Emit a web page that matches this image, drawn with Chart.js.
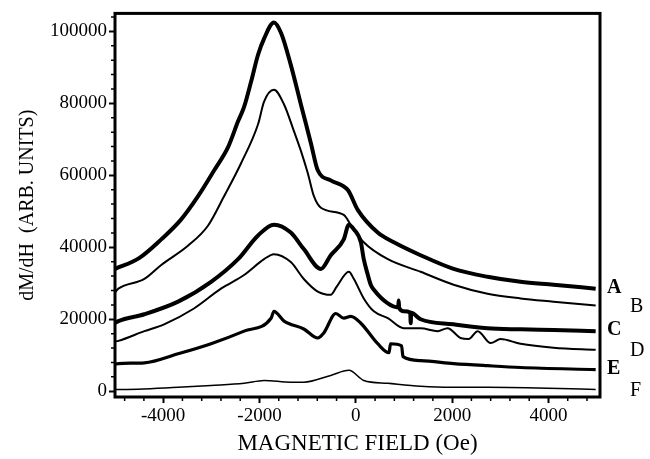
<!DOCTYPE html>
<html>
<head>
<meta charset="utf-8">
<script src="https://cdn.jsdelivr.net/npm/chart.js@4.4.0/dist/chart.umd.min.js"></script>
<style>
  html, body { margin: 0; padding: 0; background: #fff; }
</style>
</head>
<body>
<canvas id="chart" width="650" height="459"></canvas>
<script>
// Dados (campo em Oe, dM/dH em unidades arbitrárias)
const aX = [-5000, -4500, -4040, -3630, -3275, -2940, -2650, -2445, -2320, -2175, -2030, -1905, -1700, -1550, -1350, -1140, -930, -790, -520, -165, 40, 455, 790, 1345, 2030, 2735, 3420, 4105, 4980];
const aY = [34000, 37000, 42200, 47700, 54200, 61400, 67900, 75000, 79000, 86000, 93500, 98000, 102500, 99500, 90700, 79700, 68800, 61400, 58600, 55900, 50400, 44100, 41400, 37800, 34000, 31800, 30400, 29600, 28500];

const bX = [-5000, -4930, -4390, -4040, -3480, -3070, -2735, -2385, -2030, -1905, -1700, -1490, -1285, -1140, -995, -870, -725, -250, -105, 165, 665, 1345, 2030, 2735, 3420, 4105, 4980];
const bY = [27500, 28500, 31200, 35100, 40500, 46000, 54200, 63300, 74200, 80500, 83800, 79700, 72300, 66800, 60500, 54200, 51000, 49000, 46300, 41400, 36700, 33200, 29600, 27100, 25800, 24900, 23800];

const cX = [-5000, -4930, -4390, -3690, -3005, -2445, -2030, -1700, -1350, -1080, -725, -520, -250, -145, -40, 105, 165, 250, 310, 375, 665, 880, 890, 900, 995, 1130, 1140, 1150, 1345, 2030, 2735, 3420, 4105, 4980];
const cY = [19000, 19500, 21400, 24900, 30400, 36700, 43300, 46300, 44100, 39500, 34000, 37800, 42200, 46300, 45000, 41400, 36700, 32300, 29600, 28200, 24400, 23300, 25200, 23200, 22200, 21900, 18900, 21800, 20000, 18600, 17500, 17200, 17000, 16700];

const dX = [-5000, -4930, -4390, -3980, -3360, -2800, -2320, -1905, -1700, -1350, -1080, -790, -520, -400, -145, -40, 165, 375, 665, 995, 1345, 1700, 1905, 2175, 2340, 2530, 2800, 3005, 3420, 4105, 4980];
const dY = [13800, 14000, 16700, 18600, 23000, 28500, 32300, 36700, 38100, 35900, 31200, 27700, 26800, 29000, 33200, 31200, 25800, 22200, 20300, 17500, 17500, 16700, 17500, 14800, 14500, 16700, 13400, 14500, 13200, 12100, 11500];

const eX = [-5000, -4930, -4390, -3690, -3005, -2320, -1760, -1700, -1490, -1080, -790, -665, -415, -250, -105, 105, 455, 690, 720, 950, 980, 1345, 2030, 2735, 3420, 4980];
const eY = [7500, 7700, 7900, 10400, 13200, 16700, 20300, 22200, 19500, 17300, 14800, 16200, 21600, 20300, 20800, 18900, 13200, 10700, 13200, 12600, 9600, 8500, 7700, 7100, 6600, 6000];

const fX = [-5000, -4930, -3690, -3005, -2320, -1905, -1350, -1080, -520, -145, 165, 665, 1345, 1970, 2735, 4980];
const fY = [500, 500, 1100, 1600, 2200, 3000, 2500, 2500, 4400, 5800, 3000, 2200, 1400, 1100, 1100, 500];

// Ticks dos eixos
const xMajorTicks = [-4000, -2000, 0, 2000, 4000];
const yMajorTicks = [0, 20000, 40000, 60000, 80000, 100000];
const xMinorStep = 400;
const yMinorStep = 4000;

const serifFont = "'Liberation Serif', 'Times New Roman', serif";

const seriesList = [
  { name: "A", xs: aX, ys: aY, width: 4, bold: true },
  { name: "B", xs: bX, ys: bY, width: 2, bold: false },
  { name: "C", xs: cX, ys: cY, width: 4, bold: true },
  { name: "D", xs: dX, ys: dY, width: 2, bold: false },
  { name: "E", xs: eX, ys: eY, width: 3.2, bold: true },
  { name: "F", xs: fX, ys: fY, width: 1.5, bold: false },
];

// Moldura, ticks menores e rótulos das curvas
const framePlugin = {
  id: "frame",
  afterDraw(chart) {
    const { ctx, chartArea, scales } = chart;
    const xs = scales.x;
    const ys = scales.y;
    ctx.save();
    ctx.strokeStyle = "#000";

    // ticks menores
    ctx.lineWidth = 1.5;
    ctx.beginPath();
    for (let v = -4800; v <= 4800; v += xMinorStep) {
      if (xMajorTicks.includes(v)) continue;
      const px = xs.getPixelForValue(v);
      ctx.moveTo(px, chartArea.bottom);
      ctx.lineTo(px, chartArea.bottom + 4);
    }
    for (let v = 4000; v <= 104000; v += yMinorStep) {
      if (yMajorTicks.includes(v)) continue;
      const py = ys.getPixelForValue(v);
      ctx.moveTo(chartArea.left, py);
      ctx.lineTo(chartArea.left - 4, py);
    }
    ctx.stroke();

    // moldura
    ctx.lineWidth = 3;
    ctx.strokeRect(chartArea.left, chartArea.top, chartArea.right - chartArea.left, chartArea.bottom - chartArea.top);

    // rótulos A-F
    ctx.fillStyle = "#000";
    ctx.textBaseline = "middle";
    ctx.textAlign = "left";
    seriesList.forEach((s) => {
      const py = ys.getPixelForValue(s.ys[s.ys.length - 1]);
      ctx.font = (s.bold ? "bold " : "") + "20px " + serifFont;
      const px = chartArea.right + (s.bold ? 7 : 30);
      ctx.fillText(s.name, px, py + (s.bold ? -1 : 1));
    });
    ctx.restore();
  },
};

const ctx = document.getElementById("chart").getContext("2d");
const chart = new Chart(ctx, {
  type: "line",
  data: {
    datasets: seriesList.map((s) => ({
      label: s.name,
      data: s.xs.map((x, i) => ({ x: x, y: s.ys[i] })),
      borderColor: "#000",
      borderWidth: s.width,
      borderJoinStyle: "round",
      pointRadius: 0,
      cubicInterpolationMode: "monotone",
      fill: false,
    })),
  },
  options: {
    responsive: false,
    animation: false,
    layout: {
      padding: { top: 8, right: 50, left: 0, bottom: 0 },
    },
    plugins: {
      legend: { display: false },
      tooltip: { enabled: false },
    },
    scales: {
      x: {
        type: "linear",
        min: -5000,
        max: 5070,
        afterBuildTicks: (scale) => {
          scale.ticks = xMajorTicks.map((v) => ({ value: v }));
        },
        afterFit: (scale) => {
          scale.height = 62;
        },
        grid: {
          drawOnChartArea: false,
          drawTicks: true,
          tickLength: 6,
          tickWidth: 2,
          tickColor: "#000",
        },
        border: { display: false },
        ticks: {
          color: "#000",
          font: { family: serifFont, size: 19 },
          padding: 2,
          maxRotation: 0,
          callback: (v) => String(v),
        },
        title: {
          display: true,
          text: "MAGNETIC FIELD (Oe)",
          color: "#000",
          font: { family: serifFont, size: 23 },
          padding: { top: 0, bottom: 1 },
        },
      },
      y: {
        type: "linear",
        min: -1600,
        max: 105000,
        afterBuildTicks: (scale) => {
          scale.ticks = yMajorTicks.map((v) => ({ value: v }));
        },
        afterFit: (scale) => {
          scale.width = 115;
        },
        grid: {
          drawOnChartArea: false,
          drawTicks: true,
          tickLength: 6,
          tickWidth: 2,
          tickColor: "#000",
        },
        border: { display: false },
        ticks: {
          color: "#000",
          font: { family: serifFont, size: 19 },
          padding: 2,
          callback: (v) => String(v),
        },
        title: {
          display: true,
          text: "dM/dH  (ARB. UNITS)",
          color: "#000",
          font: { family: serifFont, size: 20 },
          padding: { top: 16, bottom: 0 },
        },
      },
    },
  },
  plugins: [framePlugin],
});
</script>
</body>
</html>
